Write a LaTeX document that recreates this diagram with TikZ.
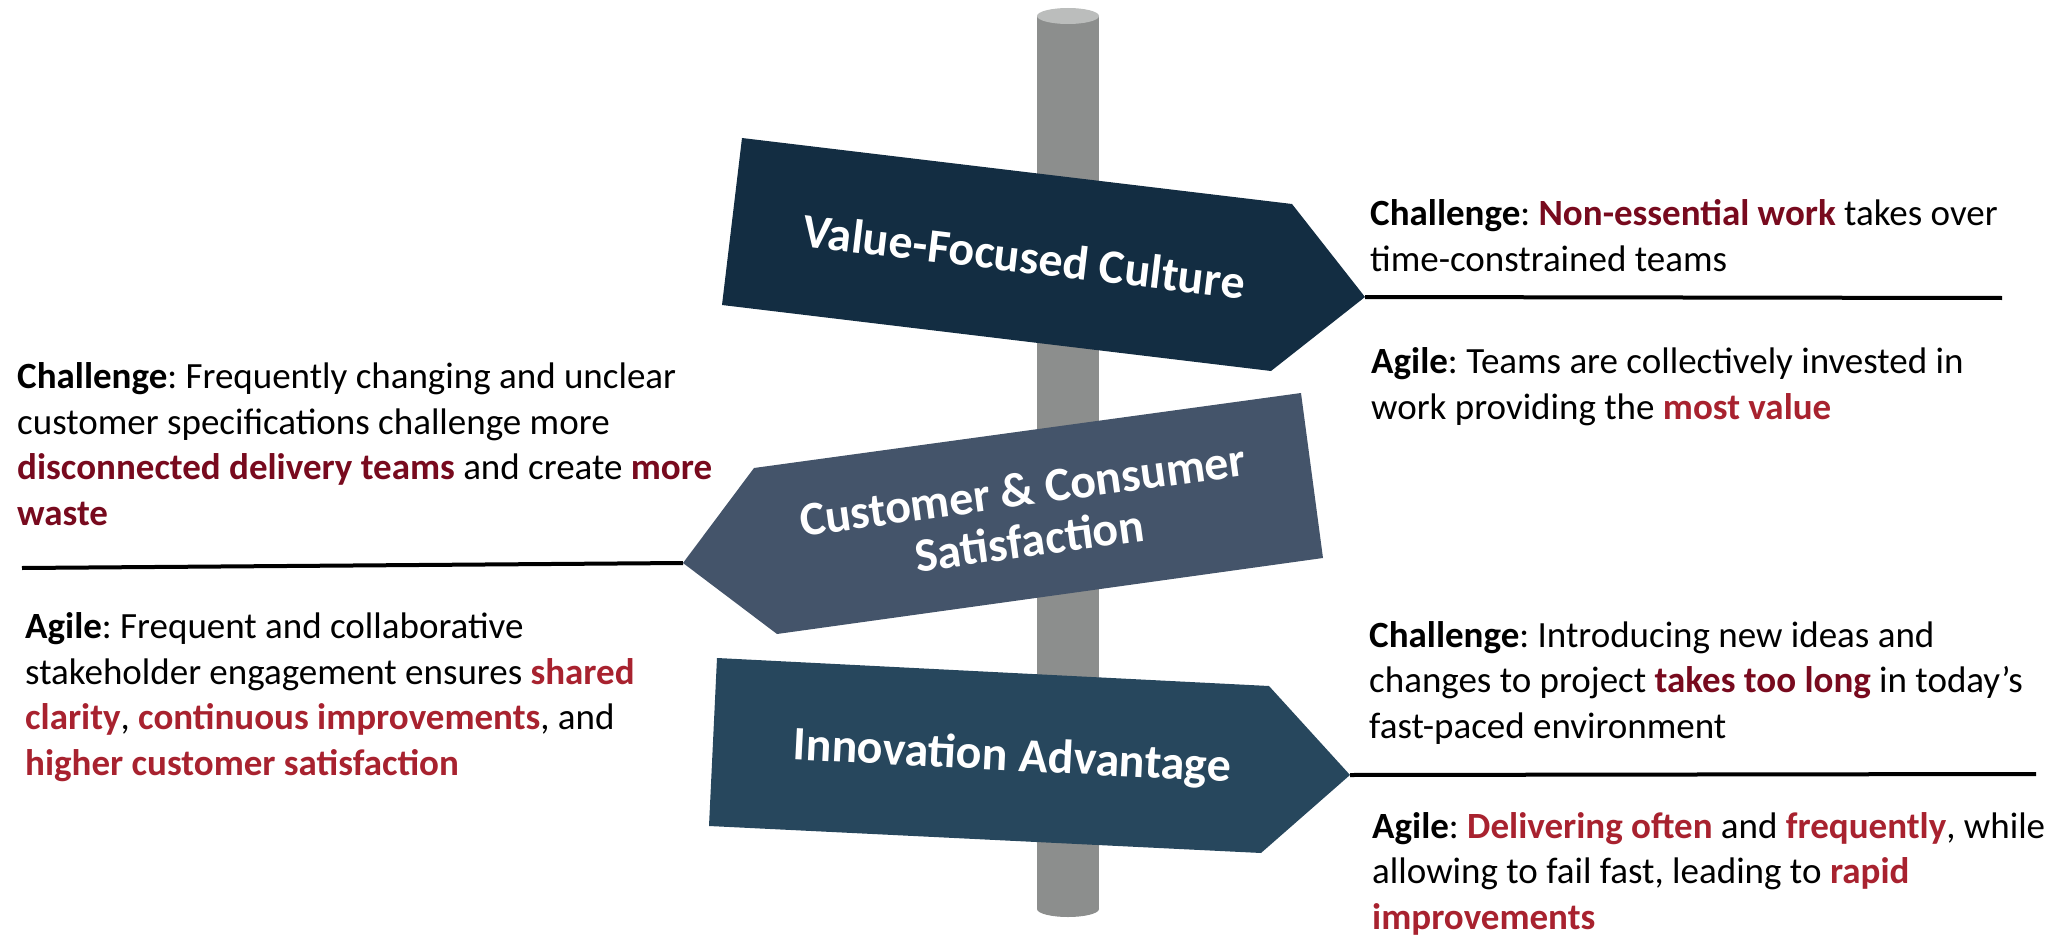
\documentclass[tikz,border=0pt]{standalone}
\usepackage{fontspec}
\setmainfont{Carlito}
\frenchspacing
\definecolor{poleGray}{HTML}{8C8E8D}
\definecolor{poleTop}{HTML}{BBBDBC}
\definecolor{signNavy}{HTML}{132D42}
\definecolor{signSlate}{HTML}{44546A}
\definecolor{signTeal}{HTML}{27475D}
\definecolor{darkRed}{HTML}{780A1E}
\definecolor{brightRed}{HTML}{A8222F}
\newcommand{\chl}[1]{\textbf{\color{darkRed}#1}}
\newcommand{\agl}[1]{\textbf{\color{brightRed}#1}}
\begin{document}
\begin{tikzpicture}[x=1pt,y=-1pt,
  % multi-line nodes are placed by the baseline of their last line
  body/.style={anchor=base west, align=left, inner sep=0pt,
    font=\fontsize{37}{45.5}\selectfont},
  signtitle/.style={text=white, align=center, inner sep=0pt,
    font=\bfseries\fontsize{48}{51}\selectfont},
  rule/.style={line width=4pt, black}]
\useasboundingbox (0,0) rectangle (2065,939);

% the post
\fill[poleGray] (1037,16) rectangle (1099,909);
\fill[poleGray] (1068,909) ellipse [x radius=31, y radius=8];
\fill[poleTop] (1068,16) ellipse [x radius=31, y radius=8];

% sign tips and rule ends
\coordinate (tipA) at (1365,297);
\coordinate (tipB) at (683,563);
\coordinate (tipC) at (1350,775);
\coordinate (endA) at (2002,298);
\coordinate (endB) at (22,568);
\coordinate (endC) at (2036,774);

% rules beside the signs
\draw[rule] (tipA) -- (endA);
\draw[rule] (tipB) -- (endB);
\draw[rule] (tipC) -- (endC);

% sign boards
\fill[signNavy] (742,138) -- (1292,204) -- (tipA) -- (1271,371) -- (722,305) -- cycle;
\fill[signSlate] (tipB) -- (754,468) -- (1301,393) -- (1323,558) -- (777,634) -- cycle;
\fill[signTeal] (717,658) -- (1269,686) -- (tipC) -- (1261,853) -- (709,826) -- cycle;

% sign titles
\node[signtitle, rotate=-6.8] (titleA) at (1024,256) {Value-Focused Culture};
\node[signtitle, rotate=7.8] (titleB) at (1026,515) {Customer \& Consumer\\Satisfaction};
\node[signtitle, rotate=-2.9] (titleC) at (1012,758) {Innovation Advantage};

% texts
\node[body] (chA) at (1370,271) {\textbf{Challenge}: \chl{Non-essential work} takes over\\time-constrained teams};
\node[body] (agA) at (1371,419) {\textbf{Agile}: Teams are collectively invested in\\work providing the \agl{most value}};

\node[body] (chB) at (17,525) {\textbf{Challenge}: Frequently changing and unclear\\customer specifications challenge more\\\chl{disconnected delivery teams} and create \chl{more}\\\chl{waste}};
\node[body] (agB) at (25,775) {\textbf{Agile}: Frequent and collaborative\\stakeholder engagement ensures \agl{shared}\\\agl{clarity}, \agl{continuous improvements}, and\\\agl{higher customer satisfaction}};

\node[body] (chC) at (1369,738) {\textbf{Challenge}: Introducing new ideas and\\changes to project \chl{takes too long} in today’s\\fast-paced environment};
\node[body] (agC) at (1372,929) {\textbf{Agile}: \agl{Delivering often} and \agl{frequently}, while\\allowing to fail fast, leading to \agl{rapid}\\\agl{improvements}};
\end{tikzpicture}
\end{document}
